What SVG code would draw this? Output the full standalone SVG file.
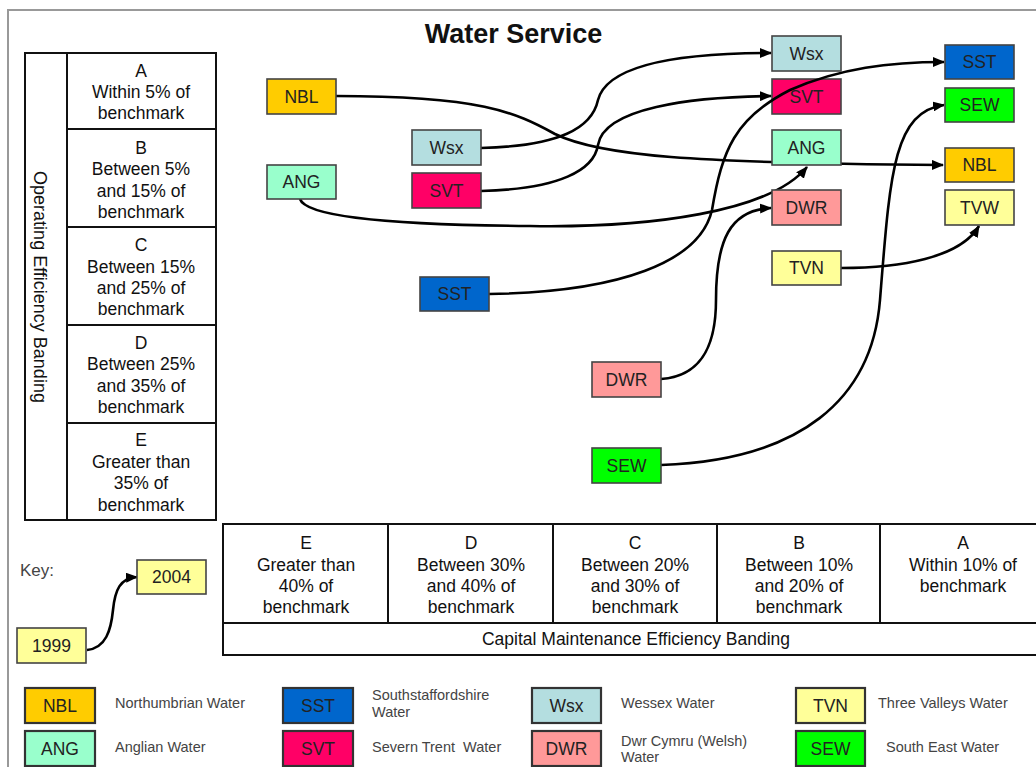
<svg xmlns="http://www.w3.org/2000/svg" width="1036" height="767" viewBox="0 0 1036 767">
<style>
text{font-family:"Liberation Sans",Arial,sans-serif;fill:#111}
.t{font-size:17.5px;text-anchor:middle}
.n{font-size:17.5px;text-anchor:middle;fill:#222}
.lg{font-size:14.5px;fill:#444}
.box{stroke:#444;stroke-width:1.6}
.lbox{stroke:#333;stroke-width:2.2}
.cell{fill:#fff;stroke:#111;stroke-width:2}
.c{fill:none;stroke:#000;stroke-width:2.6}
</style>
<defs>
<marker id="ah" markerWidth="12" markerHeight="10" refX="11" refY="5" orient="auto" markerUnits="userSpaceOnUse">
<path d="M0,0 L12,5 L0,10 Z" fill="#000"/>
</marker>
</defs>
<rect width="1036" height="767" fill="#fff"/>
<path d="M8,767 L8,10 L1036,10" fill="none" stroke="#999" stroke-width="2"/>
<text x="513.5" y="43" style="font-size:27px;font-weight:bold;text-anchor:middle">Water Service</text>

<g id="op-banding">
<rect class="cell" x="25" y="53" width="191" height="467"/>
<line x1="67" y1="53" x2="67" y2="520" stroke="#111" stroke-width="2"/>
<line x1="67" y1="129" x2="216" y2="129" stroke="#111" stroke-width="2"/>
<line x1="67" y1="227" x2="216" y2="227" stroke="#111" stroke-width="2"/>
<line x1="67" y1="325" x2="216" y2="325" stroke="#111" stroke-width="2"/>
<line x1="67" y1="423" x2="216" y2="423" stroke="#111" stroke-width="2"/>
<text transform="translate(34,287) rotate(90)" style="font-size:18px;text-anchor:middle">Operating Efficiency Banding</text>
<text class="t" x="141" y="77">A</text><text class="t" x="141" y="98">Within 5% of</text><text class="t" x="141" y="119">benchmark</text>
<text class="t" x="141" y="154">B</text><text class="t" x="141" y="175">Between 5%</text><text class="t" x="141" y="197">and 15% of</text><text class="t" x="141" y="218">benchmark</text>
<text class="t" x="141" y="251">C</text><text class="t" x="141" y="273">Between 15%</text><text class="t" x="141" y="294">and 25% of</text><text class="t" x="141" y="315">benchmark</text>
<text class="t" x="141" y="349">D</text><text class="t" x="141" y="370">Between 25%</text><text class="t" x="141" y="392">and 35% of</text><text class="t" x="141" y="413">benchmark</text>
<text class="t" x="141" y="446">E</text><text class="t" x="141" y="468">Greater than</text><text class="t" x="141" y="489">35% of</text><text class="t" x="141" y="511">benchmark</text>
</g>

<g id="cap-banding">
<rect class="cell" x="223" y="524" width="822" height="131"/>
<line x1="223" y1="623" x2="1045" y2="623" stroke="#111" stroke-width="2"/>
<line x1="388" y1="524" x2="388" y2="623" stroke="#111" stroke-width="2"/>
<line x1="553" y1="524" x2="553" y2="623" stroke="#111" stroke-width="2"/>
<line x1="717" y1="524" x2="717" y2="623" stroke="#111" stroke-width="2"/>
<line x1="880" y1="524" x2="880" y2="623" stroke="#111" stroke-width="2"/>
<text class="t" x="306" y="549">E</text><text class="t" x="306" y="571">Greater than</text><text class="t" x="306" y="592">40% of</text><text class="t" x="306" y="613">benchmark</text>
<text class="t" x="471" y="549">D</text><text class="t" x="471" y="571">Between 30%</text><text class="t" x="471" y="592">and 40% of</text><text class="t" x="471" y="613">benchmark</text>
<text class="t" x="635" y="549">C</text><text class="t" x="635" y="571">Between 20%</text><text class="t" x="635" y="592">and 30% of</text><text class="t" x="635" y="613">benchmark</text>
<text class="t" x="799" y="549">B</text><text class="t" x="799" y="571">Between 10%</text><text class="t" x="799" y="592">and 20% of</text><text class="t" x="799" y="613">benchmark</text>
<text class="t" x="963" y="549">A</text><text class="t" x="963" y="571">Within 10% of</text><text class="t" x="963" y="592">benchmark</text>
<text class="t" x="636" y="645">Capital Maintenance Efficiency Banding</text>
</g>

<g id="svt-2004"><rect class="box" x="772" y="79" width="69" height="35" fill="#FF0066"/><text class="n" x="806.5" y="102.5">SVT</text></g>

<g id="connectors">
<path class="c" marker-end="url(#ah)" d="M336,96 C480,96 515,112 555,134 C600,156 690,163 943,165"/>
<path class="c" marker-end="url(#ah)" d="M300,199 C306,218 400,225 530,226 C650,228 770,212 807,167"/>
<path class="c" marker-end="url(#ah)" d="M481,148 C560,146 592,128 598,100 C608,62 690,53 771,53"/>
<path class="c" marker-end="url(#ah)" d="M481,191 C560,189 594,170 598,145 C604,108 690,97 771,96"/>
<path class="c" marker-end="url(#ah)" d="M489,294 C620,292 700,262 712,210 C722,150 735,118 790,90 C840,68 890,62 944,62"/>
<path class="c" marker-end="url(#ah)" d="M661,379 C705,376 716,340 716,300 C716,240 730,210 771,208"/>
<path class="c" marker-end="url(#ah)" d="M661,465 C800,460 872,400 880,300 C890,175 893,112 944,105"/>
<path class="c" marker-end="url(#ah)" d="M841,268 C900,268 960,258 979,226"/>
<path class="c" marker-end="url(#ah)" d="M87,650 C106,648 111,630 113,610 C115,590 120,578 137,577"/>
</g>

<g id="nbl-1999"><rect class="box" x="267" y="79" width="69" height="35" fill="#FFCC00"/><text class="n" x="301.5" y="102.5">NBL</text></g>
<g id="ang-1999"><rect class="box" x="267" y="165" width="69" height="34" fill="#99FFCC"/><text class="n" x="301.5" y="188">ANG</text></g>
<g id="wsx-1999"><rect class="box" x="412" y="130" width="69" height="35" fill="#B4DEE0"/><text class="n" x="446.5" y="153.5">Wsx</text></g>
<g id="svt-1999"><rect class="box" x="412" y="173" width="69" height="35" fill="#FF0066"/><text class="n" x="446.5" y="196.5">SVT</text></g>
<g id="sst-1999"><rect class="box" x="420" y="277" width="69" height="34" fill="#0066CC"/><text class="n" x="454.5" y="300">SST</text></g>
<g id="dwr-1999"><rect class="box" x="592" y="362" width="69" height="35" fill="#FF9999"/><text class="n" x="626.5" y="385.5">DWR</text></g>
<g id="sew-1999"><rect class="box" x="592" y="448" width="69" height="35" fill="#00FF00"/><text class="n" x="626.5" y="471.5">SEW</text></g>

<g id="wsx-2004"><rect class="box" x="772" y="36" width="69" height="35" fill="#B4DEE0"/><text class="n" x="806.5" y="59.5">Wsx</text></g>
<g id="ang-2004"><rect class="box" x="772" y="130" width="69" height="35" fill="#99FFCC"/><text class="n" x="806.5" y="153.5">ANG</text></g>
<g id="dwr-2004"><rect class="box" x="772" y="190" width="69" height="35" fill="#FF9999"/><text class="n" x="806.5" y="213.5">DWR</text></g>
<g id="tvn"><rect class="box" x="772" y="251" width="69" height="34" fill="#FFFF99"/><text class="n" x="806.5" y="274">TVN</text></g>
<g id="sst-2004"><rect class="box" x="945" y="45" width="69" height="34" fill="#0066CC"/><text class="n" x="979.5" y="68">SST</text></g>
<g id="sew-2004"><rect class="box" x="945" y="88" width="69" height="34" fill="#00FF00"/><text class="n" x="979.5" y="111">SEW</text></g>
<g id="nbl-2004"><rect class="box" x="945" y="148" width="69" height="34" fill="#FFCC00"/><text class="n" x="979.5" y="171">NBL</text></g>
<g id="tvw"><rect class="box" x="945" y="190" width="69" height="35" fill="#FFFF99"/><text class="n" x="979.5" y="213.5">TVW</text></g>

<g id="key">
<text x="20" y="576" style="font-size:17px;fill:#444">Key:</text>
<g id="key-2004"><rect class="box" x="137" y="560" width="69" height="34" fill="#FFFF99"/><text class="n" x="171.5" y="583">2004</text></g>
<g id="key-1999"><rect class="box" x="17" y="628" width="69" height="35" fill="#FFFF99"/><text class="n" x="51.5" y="651.5">1999</text></g>
</g>

<g id="legend">
<g id="lg-nbl"><rect class="lbox" x="25" y="688" width="70" height="35" fill="#FFCC00"/><text class="n" x="60" y="711.5">NBL</text><text class="lg" x="115" y="708">Northumbrian Water</text></g>
<g id="lg-ang"><rect class="lbox" x="25" y="731" width="70" height="35" fill="#99FFCC"/><text class="n" x="60" y="754.5">ANG</text><text class="lg" x="115" y="752">Anglian Water</text></g>
<g id="lg-sst"><rect class="lbox" x="283" y="688" width="70" height="35" fill="#0066CC"/><text class="n" x="318" y="711.5">SST</text><text class="lg" x="372" y="700">Southstaffordshire</text><text class="lg" x="372" y="717">Water</text></g>
<g id="lg-svt"><rect class="lbox" x="283" y="731" width="70" height="35" fill="#FF0066"/><text class="n" x="318" y="754.5">SVT</text><text class="lg" x="372" y="752" xml:space="preserve">Severn Trent  Water</text></g>
<g id="lg-wsx"><rect class="lbox" x="532" y="688" width="69" height="35" fill="#B4DEE0"/><text class="n" x="566.5" y="711.5">Wsx</text><text class="lg" x="621" y="708">Wessex Water</text></g>
<g id="lg-dwr"><rect class="lbox" x="532" y="731" width="69" height="35" fill="#FF9999"/><text class="n" x="566.5" y="754.5">DWR</text><text class="lg" x="621" y="746">Dwr Cymru (Welsh)</text><text class="lg" x="621" y="762">Water</text></g>
<g id="lg-tvn"><rect class="lbox" x="796" y="688" width="69" height="35" fill="#FFFF99"/><text class="n" x="830.5" y="711.5">TVN</text><text class="lg" x="878" y="708">Three Valleys Water</text></g>
<g id="lg-sew"><rect class="lbox" x="796" y="731" width="69" height="35" fill="#00FF00"/><text class="n" x="830.5" y="754.5">SEW</text><text class="lg" x="886" y="752">South East Water</text></g>
</g>
</svg>
